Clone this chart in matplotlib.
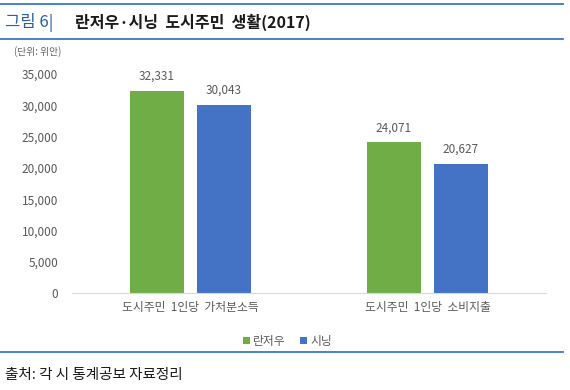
import matplotlib.pyplot as plt
from matplotlib.lines import Line2D
import numpy as np

plt.rcParams['font.family'] = ['Noto Sans CJK KR', 'DejaVu Sans']

categories = ['도시주민  1인당  가처분소득', '도시주민  1인당  소비지출']
series_names = ['란저우', '시닝']
lanzhou = [32331, 24071]
xining = [30043, 20627]
yticks = [0, 5000, 10000, 15000, 20000, 25000, 30000, 35000]

colors = ['#70AD47', '#4472C4']
W, H = 570, 390

fig = plt.figure(figsize=(W / 100, H / 100), dpi=100)

# pixel y -> figure fraction
def fy(py):
    return 1 - py / H

line_col = '#3A78C3'
for py in (4, 39, 352):
    fig.add_artist(Line2D([0, 563 / W], [fy(py), fy(py)], color=line_col, lw=1.3))

fig.text(5 / W, fy(22), '그림 6|', color='#2F5F9E', fontsize=12, va='center')
fig.text(75 / W, fy(22), '란저우·시닝  도시주민  생활(2017)', color='#1a1a1a',
         fontsize=11.5, fontweight='bold', va='center')
fig.text(14 / W, fy(52), '(단위: 위안)', color='#666666', fontsize=7, va='center')
fig.text(5 / W, fy(375), '출처: 각 시 통계공보 자료정리', color='#1a1a1a',
         fontsize=10.5, va='center')

ax = fig.add_axes([72 / W, fy(293), (546 - 72) / W, (293 - 74) / H])

x = np.arange(len(categories))
bw = 0.224
off = 0.1415
b1 = ax.bar(x - off, lanzhou, bw, color=colors[0], label=series_names[0])
b2 = ax.bar(x + off, xining, bw, color=colors[1], label=series_names[1])

for bars, vals in ((b1, lanzhou), (b2, xining)):
    for r, v in zip(bars, vals):
        ax.text(r.get_x() + r.get_width() / 2, v + 1300, f'{v:,}',
                ha='center', va='bottom', fontsize=8.5, color='#595959')

ax.set_xlim(-0.5, 1.5)
ax.set_ylim(0, 35000)
ax.set_yticks(yticks)
ax.set_yticklabels([f'{t:,}' for t in yticks])
ax.set_xticks(x)
ax.set_xticklabels(categories)
ax.tick_params(axis='both', length=0, labelsize=8.5, labelcolor='#595959')
ax.tick_params(axis='y', pad=10)
ax.tick_params(axis='x', pad=6)
for s in ('top', 'right', 'left'):
    ax.spines[s].set_visible(False)
ax.spines['bottom'].set_color('#D9D9D9')

# legend centred around x=287px, y=341px
leg_y = (293 - 341) / (293 - 74)
ax.legend(loc='center', bbox_to_anchor=(0.455, leg_y),
          ncol=2, frameon=False, fontsize=8.5, handlelength=0.6, handleheight=0.6,
          handletextpad=0.3, columnspacing=1.2, labelcolor='#595959')

fig.savefig('out.png', dpi=100)
